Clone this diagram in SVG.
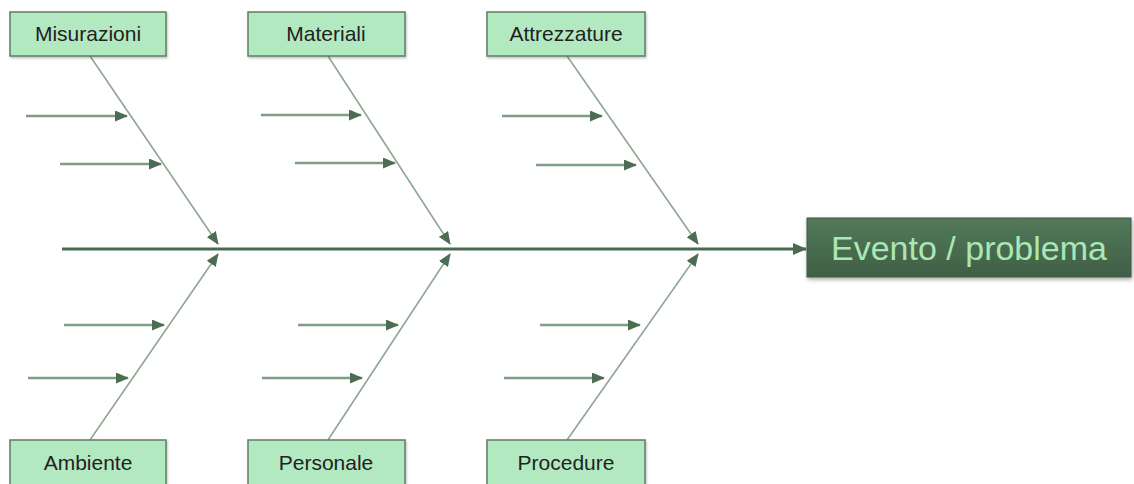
<svg xmlns="http://www.w3.org/2000/svg" width="1134" height="484" viewBox="0 0 1134 484">
<style>
.box{fill:#b3e9c1;stroke:#5f7d64;stroke-width:1.5}
.lbl{font-family:"Liberation Sans","Open Sans",sans-serif;font-size:21px;fill:#222;text-anchor:middle}
.bone{stroke:#8ea791;stroke-width:1.6;fill:none}
.sub{stroke:#7f9c85;stroke-width:2.4;fill:none}
.spine{stroke:#4b6b51;stroke-width:2.8;fill:none}
</style>
<defs>
<marker id="ah" markerWidth="13" markerHeight="11" refX="12" refY="5.5" orient="auto" markerUnits="userSpaceOnUse">
<path d="M0,0 L13,5.5 L0,11 Z" fill="#4d6d53"/>
</marker>
<marker id="ahb" markerWidth="14" markerHeight="12" refX="13" refY="6" orient="auto" markerUnits="userSpaceOnUse">
<path d="M0,0 L14,6 L0,12 Z" fill="#4b6b51"/>
</marker>
<linearGradient id="eg" x1="0" y1="0" x2="0" y2="1">
<stop offset="0" stop-color="#54795b"/>
<stop offset="1" stop-color="#3f5f45"/>
</linearGradient>
<filter id="sh" x="-10%" y="-20%" width="120%" height="150%">
<feDropShadow dx="1" dy="2" stdDeviation="2" flood-color="#000" flood-opacity="0.35"/>
</filter>
<filter id="sh2" x="-10%" y="-20%" width="120%" height="150%">
<feDropShadow dx="1" dy="1.5" stdDeviation="1.2" flood-color="#000" flood-opacity="0.25"/>
</filter>
</defs>
<g id="connectors">
<line class="spine" x1="62" y1="249" x2="806" y2="249" marker-end="url(#ahb)"/>
<line class="bone" x1="90" y1="56" x2="218" y2="244" marker-end="url(#ah)"/>
<line class="bone" x1="90" y1="440" x2="218" y2="254" marker-end="url(#ah)"/>
<line class="bone" x1="328" y1="56" x2="450" y2="244" marker-end="url(#ah)"/>
<line class="bone" x1="328" y1="440" x2="450" y2="254" marker-end="url(#ah)"/>
<line class="bone" x1="567" y1="56" x2="698" y2="244" marker-end="url(#ah)"/>
<line class="bone" x1="567" y1="440" x2="698" y2="254" marker-end="url(#ah)"/>
<line class="sub" x1="26" y1="116" x2="127" y2="116" marker-end="url(#ah)"/>
<line class="sub" x1="60" y1="164" x2="161" y2="164" marker-end="url(#ah)"/>
<line class="sub" x1="64" y1="325" x2="164" y2="325" marker-end="url(#ah)"/>
<line class="sub" x1="28" y1="378" x2="128" y2="378" marker-end="url(#ah)"/>
<line class="sub" x1="261" y1="115" x2="361" y2="115" marker-end="url(#ah)"/>
<line class="sub" x1="295" y1="163" x2="395" y2="163" marker-end="url(#ah)"/>
<line class="sub" x1="298" y1="325" x2="398" y2="325" marker-end="url(#ah)"/>
<line class="sub" x1="262" y1="378" x2="362" y2="378" marker-end="url(#ah)"/>
<line class="sub" x1="502" y1="116" x2="602" y2="116" marker-end="url(#ah)"/>
<line class="sub" x1="536" y1="165" x2="636" y2="165" marker-end="url(#ah)"/>
<line class="sub" x1="540" y1="325" x2="640" y2="325" marker-end="url(#ah)"/>
<line class="sub" x1="504" y1="378" x2="604" y2="378" marker-end="url(#ah)"/>
</g>
<g id="misurazioni"><rect class="box" x="10" y="12" width="156" height="44" filter="url(#sh2)"/><text class="lbl" x="88" y="41">Misurazioni</text></g>
<g id="materiali"><rect class="box" x="248" y="12" width="157" height="44" filter="url(#sh2)"/><text class="lbl" x="326" y="41">Materiali</text></g>
<g id="attrezzature"><rect class="box" x="487" y="12" width="158" height="44" filter="url(#sh2)"/><text class="lbl" x="566" y="41">Attrezzature</text></g>
<g id="ambiente"><rect class="box" x="10" y="440" width="156" height="50" filter="url(#sh2)"/><text class="lbl" x="88" y="470">Ambiente</text></g>
<g id="personale"><rect class="box" x="248" y="440" width="157" height="50" filter="url(#sh2)"/><text class="lbl" x="326" y="470">Personale</text></g>
<g id="procedure"><rect class="box" x="487" y="440" width="158" height="50" filter="url(#sh2)"/><text class="lbl" x="566" y="470">Procedure</text></g>
<g id="evento"><rect x="807" y="218" width="324" height="59" fill="url(#eg)" stroke="#3d5a42" stroke-width="1" filter="url(#sh)"/><text x="969" y="260" font-family="Liberation Sans,Open Sans,sans-serif" font-size="34" fill="#a9e8b5" text-anchor="middle">Evento / problema</text></g>
</svg>
